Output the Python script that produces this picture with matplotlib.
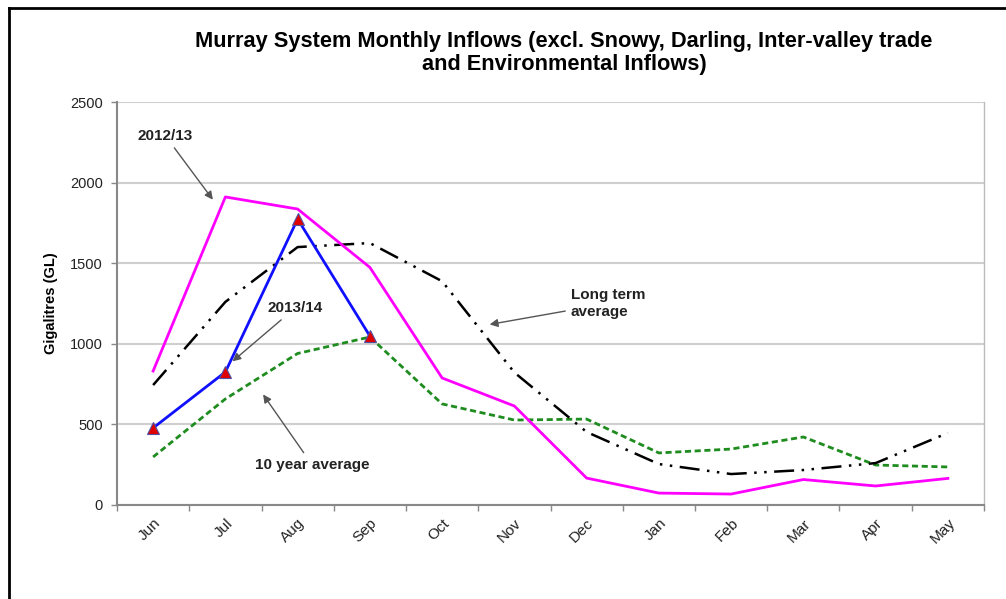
import matplotlib
matplotlib.use("Agg")
import matplotlib.pyplot as plt
from matplotlib.lines import Line2D

plt.rcParams["font.family"] = ["Liberation Sans", "DejaVu Sans"]

months = ["Jun", "Jul", "Aug", "Sep", "Oct", "Nov", "Dec", "Jan", "Feb", "Mar", "Apr", "May"]
inflow_2012_13 = [831, 1911, 1836, 1474, 788, 614, 167, 74, 68, 158, 118, 165]
inflow_2013_14 = [478, 825, 1774, 1048]
long_term_avg = [744, 1260, 1600, 1625, 1388, 822, 453, 254, 192, 217, 260, 447]
ten_year_avg = [298, 658, 940, 1042, 627, 527, 533, 323, 347, 422, 248, 236]

W, H = 1006, 599
fig = plt.figure(figsize=(W / 100, H / 100), dpi=100)
ax = fig.add_axes([117 / W, 1 - 505 / H, (984 - 117) / W, (505 - 102) / H])

x = list(range(len(months)))

ax.plot(x, ten_year_avg, color="#1e8c1e", lw=2, linestyle=(0, (2.2, 1.3)), zorder=3)
ax.plot(x, long_term_avg, color="black", lw=1.8,
        linestyle=(0, (8, 3, 1, 3, 1, 3)), zorder=3)
ax.plot(x, inflow_2012_13, color="#ff00ff", lw=2, zorder=4)
ax.plot(x[:len(inflow_2013_14)], inflow_2013_14, color="#1010ff", lw=2, zorder=5,
        marker="^", markersize=9, markerfacecolor="#e00000",
        markeredgecolor="#5050a0", markeredgewidth=0.8)

ax.set_xlim(-0.5, len(months) - 0.5)
ax.set_ylim(0, 2500)
ax.set_yticks(range(0, 2501, 500))
ax.set_xticks(x)
ax.set_xticklabels(months, rotation=45, ha="right", rotation_mode="anchor",
                   fontsize=11, color="#222222")
ax.set_xticks([i - 0.5 for i in range(len(months) + 1)], minor=True)
ax.tick_params(axis="x", which="major", length=0, pad=8)
ax.tick_params(axis="x", which="minor", length=4, color="#888888", width=1)
ax.tick_params(axis="y", length=4, color="#888888", width=1, labelsize=10.5,
               labelcolor="#222222", pad=6)
ax.yaxis.grid(True, color="#cfcfcf", lw=1.5)
ax.set_axisbelow(True)
for side in ["left", "bottom"]:
    ax.spines[side].set_color("#888888")
    ax.spines[side].set_linewidth(1.5)
for side in ["top", "right"]:
    ax.spines[side].set_color("#bbbbbb")
    ax.spines[side].set_linewidth(1)
ax.spines["top"].set_visible(False)

ax.set_ylabel("Gigalitres (GL)", fontsize=10.5, fontweight="bold", labelpad=9)

fig.text(564 / W, 1 - 53 / H, "Murray System Monthly Inflows (excl. Snowy, Darling, Inter-valley trade\n"
         "and Environmental Inflows)", ha="center", va="center", fontsize=15.7,
         fontweight="bold", linespacing=1.1)

arrow = dict(arrowstyle="-|>", color="#555555", lw=1, mutation_scale=12)
note = dict(fontsize=11, fontweight="bold", color="#222222")
ax.annotate("2012/13", xy=(0.85, 1880), xytext=(0.17, 2290), ha="center", va="center",
            arrowprops=arrow, **note)
ax.annotate("2013/14", xy=(1.07, 880), xytext=(1.96, 1220), ha="center", va="center",
            arrowprops=arrow, **note)
ax.annotate("10 year average", xy=(1.5, 700), xytext=(2.2, 250), ha="center", va="center",
            arrowprops=arrow, **note)
ax.annotate("Long term\naverage", xy=(4.62, 1117), xytext=(5.78, 1250), ha="left", va="center",
            arrowprops=arrow, **note)

# outer frame of the original chart object
fig.add_artist(Line2D([9 / W, 9 / W], [0, 1 - 8 / H], color="black", lw=2))
fig.add_artist(Line2D([9 / W, 1], [1 - 8 / H, 1 - 8 / H], color="black", lw=2))

fig.savefig("out.png", dpi=100)
